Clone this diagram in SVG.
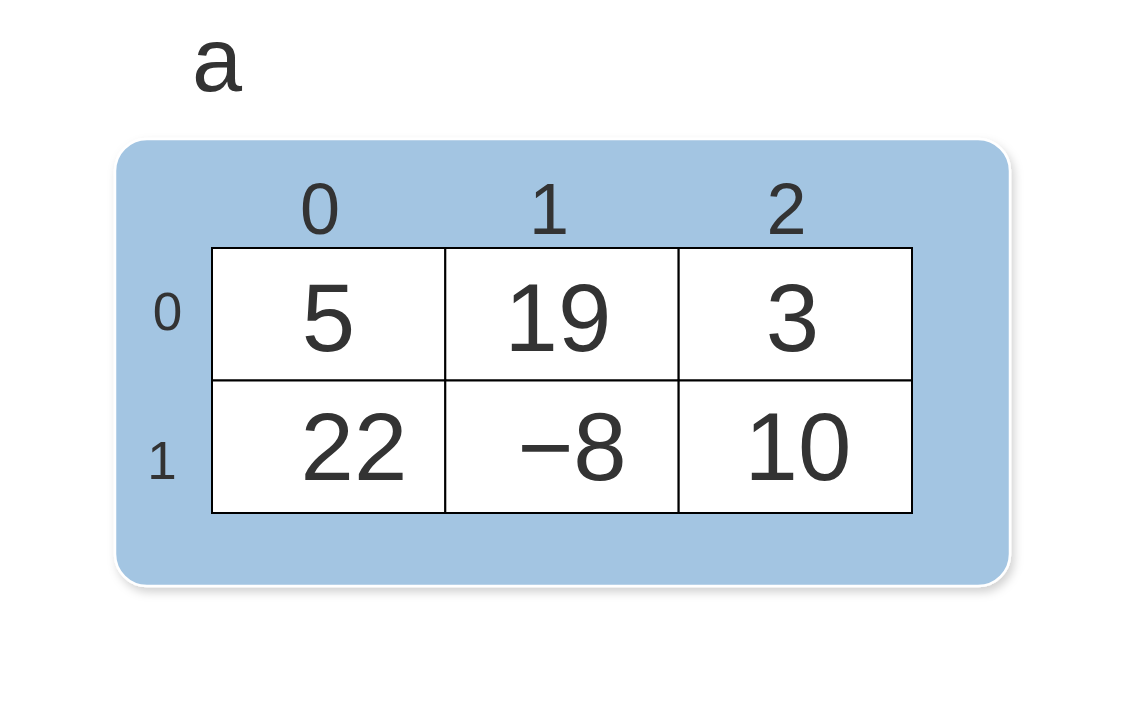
<svg xmlns="http://www.w3.org/2000/svg" width="1138" height="706" viewBox="0 0 1138 706">
<style>
text{font-family:"Liberation Sans",Arial,sans-serif;fill:#333333;text-anchor:middle}
.v{font-size:96px}
.h{font-size:72px}
.r{font-size:53px}
.cell{fill:#ffffff;stroke:#000000;stroke-width:2}
</style>
<defs>
<filter id="sh" x="-10%" y="-10%" width="120%" height="125%">
<feDropShadow dx="3" dy="5" stdDeviation="5" flood-color="#000000" flood-opacity="0.18"/>
</filter>
</defs>
<rect width="1138" height="706" fill="#ffffff"/>
<g id="title"><text x="217" y="91" style="font-size:90px">a</text></g>
<g id="panel"><rect x="115" y="139" width="895" height="447" rx="32" ry="32" fill="#a3c5e2" stroke="#ffffff" stroke-width="2.5" filter="url(#sh)"/></g>
<g id="col-labels" class="h">
<text class="h" x="320" y="234">0</text>
<text class="h" x="549" y="234">1</text>
<text class="h" x="786.5" y="234">2</text>
</g>
<g id="row-labels">
<text class="r" x="167.5" y="330">0</text>
<text class="r" x="162" y="479">1</text>
</g>
<g id="cells">
<g id="c00"><rect class="cell" x="212" y="248" width="233.3" height="132.5"/><text class="v" x="328.5" y="351">5</text></g>
<g id="c01"><rect class="cell" x="445.3" y="248" width="233.3" height="132.5"/><text class="v" x="558" y="351">19</text></g>
<g id="c02"><rect class="cell" x="678.7" y="248" width="233.3" height="132.5"/><text class="v" x="792.5" y="351">3</text></g>
<g id="c10"><rect class="cell" x="212" y="380.5" width="233.3" height="132.5"/><text class="v" x="354" y="480">22</text></g>
<g id="c11"><rect class="cell" x="445.3" y="380.5" width="233.3" height="132.5"/><text class="v" x="572" y="480">−8</text></g>
<g id="c12"><rect class="cell" x="678.7" y="380.5" width="233.3" height="132.5"/><text class="v" x="798" y="480">10</text></g>
</g>
<g id="connectors"/>
</svg>
